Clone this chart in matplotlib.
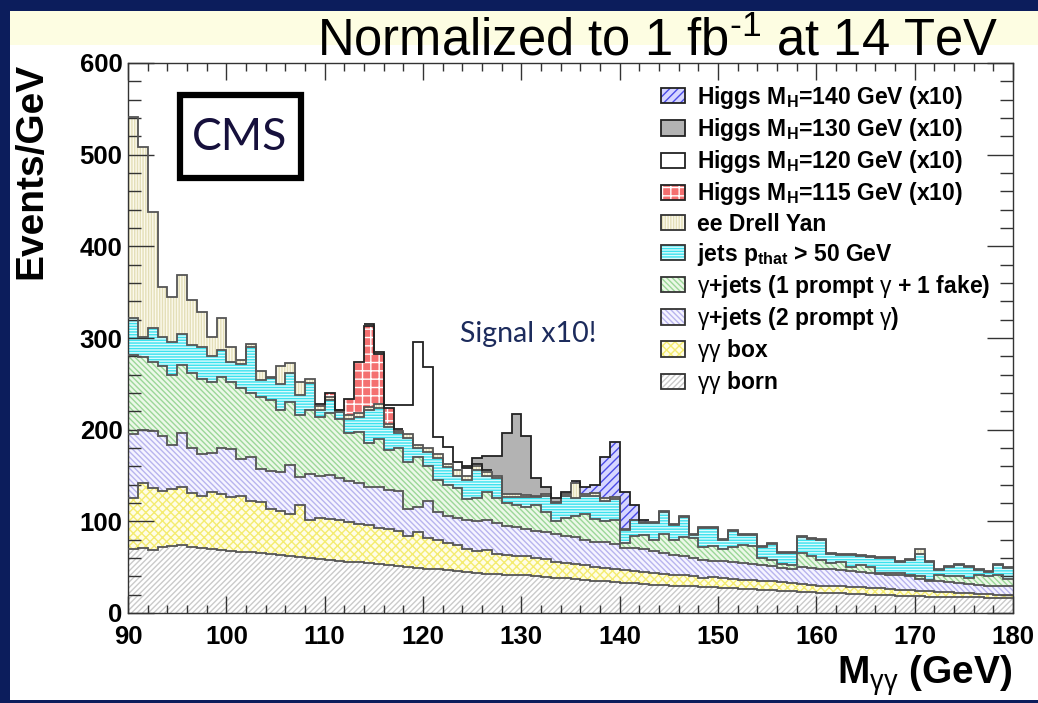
import numpy as np
import matplotlib
matplotlib.use("Agg")
import matplotlib.pyplot as plt
from matplotlib.patches import Patch, Rectangle
from matplotlib.legend_handler import HandlerTuple
from matplotlib.ticker import MultipleLocator

plt.rcParams['font.family'] = ['Liberation Sans', 'DejaVu Sans']
plt.rcParams['mathtext.fontset'] = 'custom'
plt.rcParams['mathtext.rm'] = 'Liberation Sans'
plt.rcParams['mathtext.bf'] = 'Liberation Sans:bold'
plt.rcParams['mathtext.it'] = 'Liberation Sans:italic'
plt.rcParams['hatch.linewidth'] = 1.0

# 1 GeV bins from 90 to 180
edges = np.arange(90, 181, 1)

# stacked background heights (events/GeV), bottom to top
stack_born = [70, 71, 69, 72, 73, 74, 72, 71, 70, 69,
              68, 67, 67, 66, 64, 63, 62, 61, 60, 59,
              58, 57, 56, 56, 55, 54, 52, 51, 50, 49,
              48, 48, 47, 46, 45, 44, 43, 43, 42, 41,
              41, 40, 39, 38, 38, 37, 36, 35, 35, 34,
              33, 33, 32, 31, 31, 30, 29, 29, 28, 28,
              27, 27, 26, 26, 25, 25, 24, 24, 23, 23,
              22, 22, 22, 21, 21, 20, 20, 20, 19, 19,
              19, 18, 18, 18, 17, 17, 17, 16, 16, 16]
stack_box = [126, 142, 136, 133, 135, 138, 131, 128, 132, 130,
             127, 128, 122, 121, 113, 111, 108, 118, 102, 104,
             103, 101, 99, 97, 96, 93, 92, 90, 84, 88,
             82, 80, 76, 74, 70, 68, 69, 64, 63, 62,
             62, 60, 59, 56, 55, 54, 52, 50, 49, 48,
             47, 46, 45, 44, 43, 42, 41, 40, 38, 39,
             38, 37, 36, 36, 35, 35, 34, 33, 32, 31,
             30, 30, 29, 28, 28, 27, 27, 26, 25, 25,
             24, 24, 23, 23, 22, 22, 21, 21, 20, 20]
stack_2prompt = [195, 200, 199, 193, 183, 196, 180, 174, 175, 180,
                 179, 168, 170, 157, 155, 154, 162, 148, 152, 150,
                 151, 147, 144, 142, 138, 137, 134, 133, 114, 116,
                 122, 110, 106, 104, 101, 100, 101, 98, 95, 94,
                 92, 90, 88, 86, 84, 83, 80, 78, 77, 75,
                 71, 71, 70, 68, 66, 63, 62, 60, 58, 57,
                 57, 56, 55, 54, 52, 51, 49, 48, 50, 49,
                 48, 48, 47, 46, 45, 44, 43, 42, 41, 40,
                 37, 35, 35, 34, 33, 32, 31, 30, 30, 29]
stack_1fake = [281, 279, 274, 270, 260, 271, 262, 255, 252, 258,
               252, 245, 240, 236, 232, 222, 230, 216, 222, 214,
               218, 212, 196, 198, 186, 190, 178, 180, 165, 170,
               160, 145, 140, 136, 124, 126, 132, 126, 120, 118,
               116, 118, 110, 100, 104, 106, 108, 103, 100, 101,
               76, 84, 85, 80, 86, 80, 83, 82, 72, 73,
               70, 72, 74, 73, 60, 58, 54, 52, 65, 62,
               58, 55, 56, 50, 52, 50, 44, 44, 44, 42,
               40, 36, 42, 40, 40, 38, 41, 40, 41, 37]
stack_jets = [322, 301, 311, 301, 296, 304, 292, 290, 280, 287,
              274, 272, 290, 254, 256, 250, 262, 238, 251, 221,
              232, 219, 212, 214, 222, 224, 203, 196, 191, 180,
              176, 169, 159, 150, 145, 156, 150, 147, 127, 127,
              127, 127, 128, 120, 128, 125, 128, 128, 122, 124,
              91, 101, 98, 98, 110, 96, 105, 85, 93, 93,
              80, 90, 85, 85, 72, 75, 66, 66, 83, 81,
              80, 64, 63, 63, 62, 61, 60, 60, 56, 58,
              64, 56, 47, 50, 52, 50, 47, 45, 52, 49]
stack_dy = [541, 508, 437, 356, 345, 369, 341, 328, 301, 322,
            290, 276, 293, 264, 258, 270, 273, 252, 255, 226,
            236, 221, 216, 218, 225, 228, 206, 199, 195, 183,
            180, 174, 163, 156, 150, 160, 154, 150, 130, 130,
            129, 128, 130, 121, 130, 142, 130, 131, 125, 127,
            92, 102, 99, 99, 111, 97, 106, 86, 94, 94,
            81, 91, 86, 86, 73, 76, 67, 67, 84, 82,
            81, 65, 64, 64, 63, 62, 61, 61, 57, 59,
            70, 57, 48, 51, 53, 51, 48, 46, 53, 50]

# Higgs signals (x10), per bin lower edge, stacked on top of the backgrounds
sig_115 = {109: 2, 110: 4, 111: 1, 112: 18, 113: 56, 114: 88, 115: 55, 116: 18, 117: 2}
sig_120 = {114: 2, 115: 2, 116: 3, 117: 26, 118: 32, 119: 113, 120: 88, 121: 18,
           122: 18, 123: 9, 124: 8, 125: 3, 126: 2}
sig_130 = {124: 2, 125: 6, 126: 15, 127: 21, 128: 66, 129: 87, 130: 64, 131: 19,
           132: 8, 133: 4, 134: 2}
sig_140 = {135: 2, 136: 7, 137: 9, 138: 45, 139: 60, 140: 40, 141: 16, 142: 2}

bg_labels = [r'ee Drell Yan',
             r'jets p$_{\mathbf{that}}$ > 50 GeV',
             r'$\mathrm{\gamma}$+jets (1 prompt $\mathrm{\gamma}$ + 1 fake)',
             r'$\mathrm{\gamma}$+jets (2 prompt $\mathrm{\gamma}$)',
             r'$\mathrm{\gamma\gamma}$ box',
             r'$\mathrm{\gamma\gamma}$ born']
sig_labels = [r'Higgs M$_{\mathbf{H}}$=140 GeV (x10)',
              r'Higgs M$_{\mathbf{H}}$=130 GeV (x10)',
              r'Higgs M$_{\mathbf{H}}$=120 GeV (x10)',
              r'Higgs M$_{\mathbf{H}}$=115 GeV (x10)']

# (stack, face colour, hatch colour, hatch)
bg_style = [
    (stack_born, 'white', '#cacaca', '//////'),
    (stack_box, '#fffde6', '#f4ec70', 'xxxx'),
    (stack_2prompt, '#f5f4ff', '#b8b4ee', '\\\\\\\\\\\\'),
    (stack_1fake, '#ecf8e8', '#9bd798', '\\\\\\\\\\\\'),
    (stack_jets, '#dcfbfd', '#3ce2ee', '------'),
    (stack_dy, '#fbf9ec', '#e4dfb8', '||||||'),
]
sig_style = [
    (sig_115, '#f47070', 'white', '++'),
    (sig_120, 'white', 'white', None),
    (sig_130, '#b3b3b3', '#b3b3b3', None),
    (sig_140, '#d6d6ff', '#4a4ae6', '////'),
]
line_col = '#555555'

fig = plt.figure(figsize=(10.38, 7.03), dpi=100, facecolor='#0c1d5c')
fig.add_artist(Rectangle((10 / 1038, 3 / 703), 1, 689 / 703, transform=fig.transFigure,
                         facecolor='white', edgecolor='none', zorder=-10))
fig.add_artist(Rectangle((10 / 1038, 1 - 45 / 703), 1, 34 / 703, transform=fig.transFigure,
                         facecolor='#fdfde2', edgecolor='none', zorder=-9))

ax = fig.add_axes([128 / 1038, 1 - 613 / 703, 885 / 1038, 550 / 703])

# backgrounds
prev = np.zeros(len(edges) - 1)
bg_handles = []
for top, face, hcol, hatch in bg_style:
    top = np.asarray(top, dtype=float)
    ax.stairs(top, edges, baseline=prev, fill=True, facecolor=face, edgecolor=hcol,
              hatch=hatch, linewidth=0, zorder=1)
    ax.stairs(top, edges, baseline=None, color=line_col, linewidth=1.3, zorder=3)
    bg_handles.append((Patch(facecolor=face, edgecolor=hcol, hatch=hatch, linewidth=0),
                       Patch(facecolor='none', edgecolor='#333333', linewidth=1.3)))
    prev = top

# signals on top
sig_handles = []
for sig, face, hcol, hatch in sig_style:
    vals = np.array([sig.get(m, 0) for m in edges[:-1]], dtype=float)
    idx = np.nonzero(vals)[0]
    lo, hi = idx[0], idx[-1] + 1
    top = prev + vals
    ax.stairs(top[lo:hi], edges[lo:hi + 1], baseline=prev[lo:hi], fill=True,
              facecolor=face, edgecolor=hcol, hatch=hatch, linewidth=0, zorder=2)
    ax.stairs(top[lo:hi], edges[lo:hi + 1], baseline=None, color='#222222',
              linewidth=1.3, zorder=4)
    sig_handles.append((Patch(facecolor=face, edgecolor=hcol, hatch=hatch, linewidth=0),
                        Patch(facecolor='none', edgecolor='#222222', linewidth=1.3)))
    prev = top

ax.set_xlim(90, 180)
ax.set_ylim(0, 600)
ax.xaxis.set_major_locator(MultipleLocator(10))
ax.xaxis.set_minor_locator(MultipleLocator(2))
ax.yaxis.set_major_locator(MultipleLocator(100))
ax.yaxis.set_minor_locator(MultipleLocator(20))
ax.tick_params(which='both', direction='in', top=True, right=True, width=1, colors='#333333')
ax.tick_params(axis='y', which='major', length=19, pad=4)
ax.tick_params(axis='y', which='minor', length=9.5)
ax.tick_params(axis='x', which='major', length=12, pad=9)
ax.tick_params(axis='x', which='minor', length=6)
for lab in ax.get_xticklabels() + ax.get_yticklabels():
    lab.set_fontsize(18.5)
    lab.set_fontweight('bold')
    lab.set_color('black')
for sp in ax.spines.values():
    sp.set_color('#333333')
    sp.set_linewidth(1.0)

ax.set_ylabel('Events/GeV', fontsize=28, fontweight='bold', loc='top', labelpad=22)
ax.set_xlabel(r'M$_{\mathrm{\gamma\gamma}}$ (GeV)', fontsize=28, fontweight='bold',
              loc='right', labelpad=3)

handles = sig_handles[::-1] + bg_handles[::-1]
labels = sig_labels + bg_labels
ax.legend(handles, labels, handler_map={tuple: HandlerTuple(ndivide=1)},
          loc='upper left', bbox_to_anchor=(0.602, 0.962), frameon=False,
          prop={'size': 16.5, 'weight': 'bold'}, handlelength=1.05, handleheight=0.65,
          handletextpad=0.52, labelspacing=0.225, borderpad=0, borderaxespad=0)

fig.text(998 / 1038, 1 - 55 / 703, 'Normalized to 1 fb$^{\u2010\\mathrm{1}}$ at 14 TeV',
         fontsize=36.5, ha='right', va='baseline', color='black')

# CMS box
fig.add_artist(Rectangle((180 / 1038, 1 - 178 / 703), 121 / 1038, 83 / 703,
                         transform=fig.transFigure, facecolor='white',
                         edgecolor='black', linewidth=4.5, zorder=5))
fig.text(240 / 1038, 1 - 137 / 703, 'CMS', fontsize=32, family='Lato',
         color='#16103c', ha='center', va='center', zorder=6)
fig.text(460 / 1038, 1 - 342 / 703, 'Signal x10!', fontsize=20.5, family='Lato',
         color='#1c2b5c', ha='left', va='baseline')

fig.savefig('out.png', dpi=100, facecolor=fig.get_facecolor())
